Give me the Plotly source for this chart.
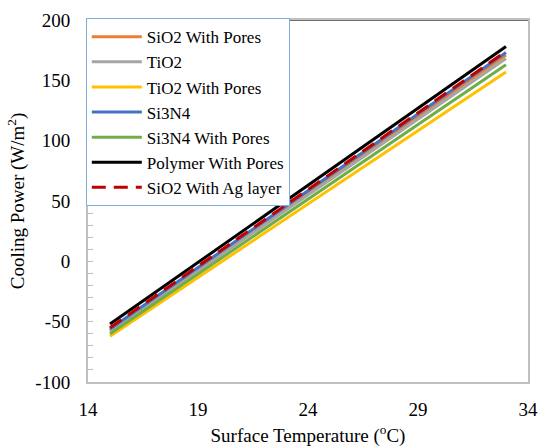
import plotly.graph_objects as go

# Surface temperature range (°C)
temperature = [15, 33]

# Net cooling power (W/m²) at each end of the temperature range
series_names = [
    "SiO2 With Pores",
    "TiO2",
    "TiO2 With Pores",
    "Si3N4",
    "Si3N4 With Pores",
    "Polymer With Pores",
    "SiO2 With Ag layer",
]
sio2_pores = [-57, 171]
tio2 = [-58, 168]
tio2_pores = [-62, 157]
si3n4 = [-56, 173]
si3n4_pores = [-60, 163]
polymer_pores = [-52, 178]
sio2_ag = [-55, 174]

series_values = [sio2_pores, tio2, tio2_pores, si3n4, si3n4_pores, polymer_pores, sio2_ag]
colors = ["#ED7D31", "#A5A5A5", "#FFC000", "#4472C4", "#70AD47", "#000000", "#C00000"]
dashes = ["solid"] * 6 + ["14px,8px"]

x_ticks = [14, 19, 24, 29, 34]
y_ticks = [-100, -50, 0, 50, 100, 150, 200]

FONT = "Liberation Serif"

fig = go.Figure()
for name, vals, col, dash in zip(series_names, series_values, colors, dashes):
    fig.add_trace(go.Scatter(
        x=temperature, y=vals, name=name, mode="lines",
        line=dict(color=col, width=3, dash=dash),
    ))

fig.update_layout(
    width=541, height=447,
    margin=dict(l=88, r=13, t=20, b=65),
    paper_bgcolor="white", plot_bgcolor="white",
    font=dict(family=FONT, size=19, color="black"),
    showlegend=True,
    legend=dict(
        x=-0.005, y=1.005, xanchor="left", yanchor="top",
        bgcolor="white", bordercolor="#7FAEDB", borderwidth=1,
        font=dict(family=FONT, size=17, color="black"),
        itemwidth=50, tracegroupgap=0,
    ),
    xaxis=dict(
        range=[14, 34], tickvals=x_ticks, ticktext=[str(v) for v in x_ticks],
        showgrid=False, zeroline=False, automargin=False,
        showline=True, linecolor="#BFBFBF", linewidth=2, mirror=True,
        ticks="", ticklabelstandoff=9,
        tickfont=dict(family=FONT, size=19),
        title=dict(text="Surface Temperature (<sup>o</sup>C)", standoff=10,
                   font=dict(family=FONT, size=19)),
    ),
    yaxis=dict(
        range=[-100, 200], tickvals=y_ticks, ticktext=[str(v) for v in y_ticks],
        showgrid=False, zeroline=False, automargin=False,
        showline=True, linecolor="#BFBFBF", linewidth=2, mirror=True,
        ticks="inside", ticklen=5, tickcolor="#BFBFBF",
        minor=dict(dtick=10, ticks="inside", ticklen=5, tickcolor="#BFBFBF", showgrid=False),
        ticklabelstandoff=12,
        tickfont=dict(family=FONT, size=19),
        title=dict(text="Cooling Power (W/m<sup>2</sup>)", standoff=6,
                   font=dict(family=FONT, size=19)),
    ),
)

# darker upper frame edge
fig.add_shape(type="line", xref="paper", yref="paper", x0=0, x1=1, y0=1, y1=1,
              line=dict(color="#404040", width=1.5), layer="below")

fig.write_html("out.html")
